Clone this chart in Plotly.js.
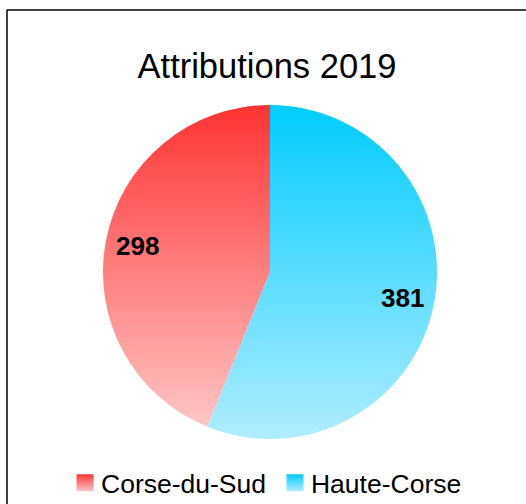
<!DOCTYPE html>
<html>
<head>
<meta charset="utf-8">
<script src="https://cdn.plot.ly/plotly-3.0.1.min.js"></script>
<style>
html,body{margin:0;padding:0;background:#fff;}
#chart{width:526px;height:504px;}
</style>
</head>
<body>
<div id="chart"></div>
<script>
const labels = ["Corse-du-Sud", "Haute-Corse"];
const values = [298, 381];
const topColors = ["#ff3333", "#00ccff"];
const bottomColors = ["#ffc6c6", "#b0edff"];
const chartTitle = "Attributions 2019";

const W = 526, H = 504;
const ml = 103, mr = 89, mt = 105, mb = 65;
const pw = W - ml - mr, ph = H - mt - mb;
const bx = (7 - ml) / pw, by = (H - mb - 10) / ph;

// value labels placed along each slice's mid-angle (slices run counterclockwise from 12 o'clock)
const total = values.reduce((a, b) => a + b, 0);
const labelRadius = 0.81;
let cum = 0;
const annotations = values.map((v) => {
  const mid = (cum + v / 2) / total * 2 * Math.PI;
  cum += v;
  return {
    xref: "paper", yref: "paper",
    x: 0.5 - 0.5 * labelRadius * Math.sin(mid),
    y: 0.5 + 0.5 * labelRadius * Math.cos(mid),
    text: String(v), showarrow: false,
    xanchor: "center", yanchor: "middle",
    font: {family: "Liberation Sans, Arial, sans-serif", size: 26, color: "#000", weight: "bold"}
  };
});

// Plotly's counterclockwise mode keeps the first slice at [rotation, rotation + its share] clockwise,
// so rotate back by the first slice's share to make it start at 12 o'clock going counterclockwise.
const startRotation = -360 * values[0] / total;

const data = [{
  type: "pie",
  labels: labels,
  values: values,
  sort: false,
  direction: "counterclockwise",
  rotation: startRotation,
  marker: {colors: topColors, line: {width: 0}},
  textinfo: "none",
  hoverinfo: "none"
}];

const layout = {
  width: W, height: H,
  margin: {l: ml, r: mr, t: mt, b: mb, pad: 0, autoexpand: false},
  paper_bgcolor: "#fff",
  font: {family: "Liberation Sans, Arial, sans-serif", color: "#000"},
  title: {
    text: chartTitle,
    font: {family: "Liberation Sans, Arial, sans-serif", size: 34.5, color: "#000"},
    xref: "container", yref: "container",
    x: 267 / W, y: 1 - 66 / H, xanchor: "center", yanchor: "middle"
  },
  showlegend: true,
  legend: {
    orientation: "h",
    xref: "paper", x: (61 - ml) / pw, xanchor: "left",
    yref: "paper", y: (H - mb - 459) / ph, yanchor: "top",
    font: {family: "Liberation Sans, Arial, sans-serif", size: 26.5, color: "#000"},
    itemclick: false, itemdoubleclick: false
  },
  annotations: annotations,
  shapes: [
    {type: "line", xref: "paper", yref: "paper", x0: bx, x1: bx, y0: -1, y1: by, line: {color: "#000", width: 1.5}},
    {type: "line", xref: "paper", yref: "paper", x0: bx, x1: 3, y0: by, y1: by, line: {color: "#000", width: 1.5}}
  ]
};

function hexToRgb(h) {
  const n = parseInt(h.slice(1), 16);
  return "rgb(" + ((n >> 16) & 255) + ", " + ((n >> 8) & 255) + ", " + (n & 255) + ")";
}

function applyGradients(gd) {
  const svg = gd.querySelector("svg.main-svg");
  const ns = "http://www.w3.org/2000/svg";
  let defs = svg.querySelector("defs");
  if (!defs) { defs = document.createElementNS(ns, "defs"); svg.insertBefore(defs, svg.firstChild); }
  const rgbs = topColors.map(hexToRgb);
  labels.forEach((l, i) => {
    const id = "grad" + i;
    if (svg.querySelector("#" + id)) return;
    const g = document.createElementNS(ns, "linearGradient");
    g.setAttribute("id", id);
    g.setAttribute("x1", "0"); g.setAttribute("y1", "0");
    g.setAttribute("x2", "0"); g.setAttribute("y2", "1");
    const s1 = document.createElementNS(ns, "stop");
    s1.setAttribute("offset", "0"); s1.setAttribute("stop-color", topColors[i]);
    const s2 = document.createElementNS(ns, "stop");
    s2.setAttribute("offset", "1"); s2.setAttribute("stop-color", bottomColors[i]);
    g.appendChild(s1); g.appendChild(s2);
    defs.appendChild(g);
  });
  const idxOf = (p) => rgbs.indexOf(p.style.fill.replace(/\s+/g, "").replace(/,/g, ", "));
  gd.querySelectorAll("g.slice path.surface").forEach((p) => {
    const i = idxOf(p);
    if (i >= 0) p.style.fill = "url(#grad" + i + ")";
  });
  gd.querySelectorAll("g.legend g.traces path.legendpie").forEach((p) => {
    const i = idxOf(p);
    p.setAttribute("d", "M12.5,8.5H-4.5V-8.5H12.5Z");
    if (i >= 0) p.style.fill = "url(#grad" + i + ")";
    p.style.stroke = "none";
  });
}

Plotly.newPlot("chart", data, layout, {staticPlot: true, displayModeBar: false}).then(applyGradients);
</script>
</body>
</html>
